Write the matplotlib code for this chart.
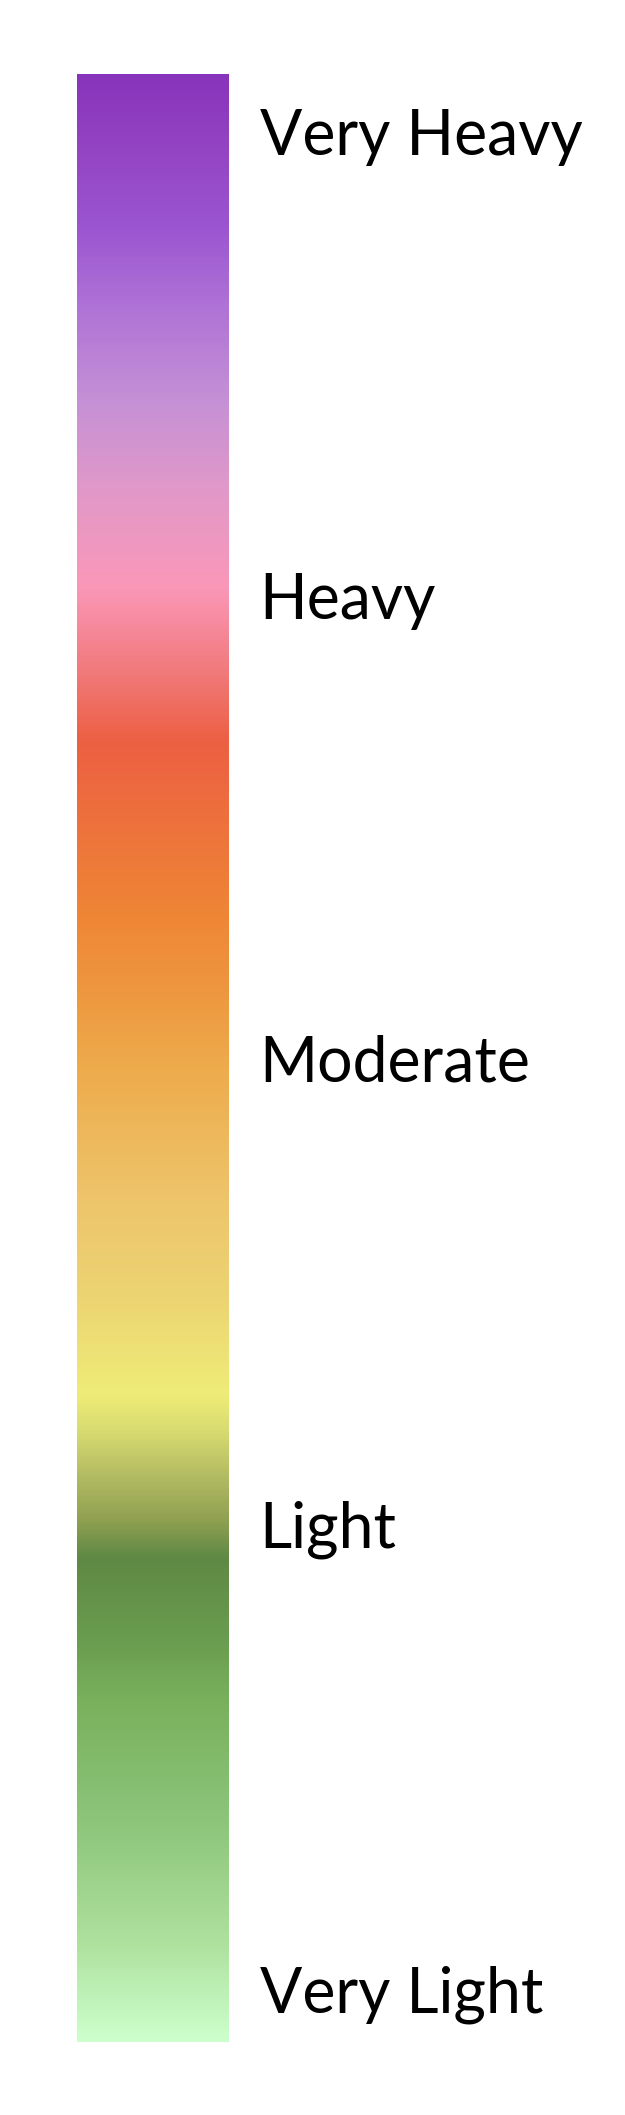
import numpy as np
import matplotlib
matplotlib.use("Agg")
import matplotlib.pyplot as plt
from matplotlib.colors import LinearSegmentedColormap, Normalize
from matplotlib.cm import ScalarMappable

# gradient stops, bottom (0) to top (100)
stop_pos = [0, 5.1, 11.2, 17.3, 20.4, 24.6, 26.5, 28.5, 31.1, 32.9, 37.7, 42.8,
            49.4, 52.9, 57.5, 66.1, 69.5, 74.0, 78.9, 83.4, 88.5, 92.2, 96.1, 100]
stop_colors = ["#CCFFCC", "#ADE09C", "#8CC47A", "#78B05C", "#699C4E", "#5E8844",
               "#8FA050", "#AEB860", "#D8DB70", "#EEEC77", "#ECD472", "#EDC46A",
               "#EDAB4C", "#ED9940", "#EE8435", "#EC5F42", "#F07878", "#FA97B8",
               "#E098C8", "#C590D5", "#AD70D5", "#9B55D0", "#9344C2", "#8833BB"]

labels = ["Very Light", "Light", "Moderate", "Heavy", "Very Heavy"]
label_pos = [2.7, 26.3, 50, 73.5, 97.1]

cmap = LinearSegmentedColormap.from_list(
    "intensity", list(zip(np.array(stop_pos) / 100, stop_colors)), N=1024)

fig = plt.figure(figsize=(6.25, 21.15), dpi=100)
cax = fig.add_axes([77 / 625, 73 / 2115, 152 / 625, 1968 / 2115])
sm = ScalarMappable(norm=Normalize(0, 100), cmap=cmap)
cb = fig.colorbar(sm, cax=cax)
cb.outline.set_visible(False)
cb.set_ticks(label_pos)
cb.set_ticklabels(labels)
cax.tick_params(length=0, pad=22, labelsize=45)
for t in cax.get_yticklabels():
    t.set_fontfamily("Lato")

fig.savefig("out.png", dpi=100)
